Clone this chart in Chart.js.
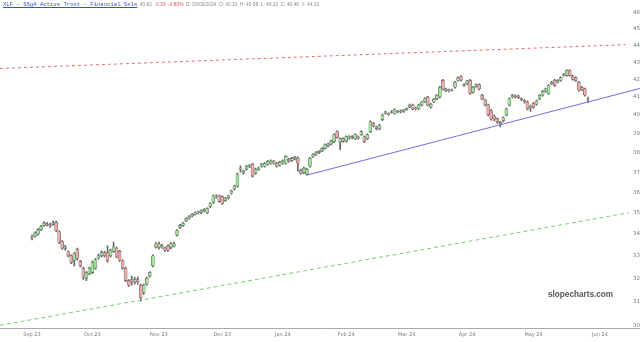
<!DOCTYPE html>
<html>
<head>
<meta charset="utf-8">
<script src="https://cdn.jsdelivr.net/npm/chart.js@4/dist/chart.umd.min.js"></script>
<style>
  html, body { margin: 0; padding: 0; background: #fff; }
  #wrap { position: relative; width: 640px; height: 342px; }
  #head { position: absolute; left: 3px; top: 1px; font: 5.6px "Liberation Mono", monospace; color: #888; white-space: pre; }
  #head .name { color: #3a4fd0; text-decoration: underline; }
  #head .info { font: 4.8px "Liberation Sans", Arial, sans-serif; }
  #head .neg { color: #e05050; }
  #mark { position: absolute; left: 548px; top: 290px; font: bold 8.2px "Liberation Sans", Arial, sans-serif; color: #555; }
</style>
</head>
<body>
<div id="wrap">
  <canvas id="chart"></canvas>
  <div id="head"><span class="name">XLF - SSgA Active Trust - Financial Sele</span><span class="info">  40.82  <span class="neg">-0.33</span>  <span class="neg">-0.80%</span>  D: 03/06/2024  O: 40.31  H: 40.58  L: 40.12  C: 40.46  Y: 44.13</span></div>
  <div id="mark">slopecharts.com</div>
</div>
<script>
// daily candles, Sep 1 2023 .. end of May 2024 (index = trading day)
const opens = [
  33.85,33.90,34.00,34.20,34.40,34.48,34.42,34.45,34.55,34.10,
  33.65,33.33,33.18,33.00,32.80,33.30,32.75,32.45,32.00,32.20,
  32.25,32.45,32.90,33.00,33.15,33.15,33.00,33.20,33.35,33.20,
  32.78,32.45,31.90,31.95,31.85,31.95,31.70,31.40,31.75,32.10,
  32.55,33.40,33.55,33.40,33.35,33.45,33.38,33.45,33.95,34.30,
  34.40,34.62,34.75,34.85,34.92,35.00,35.02,35.10,35.00,35.30,
  35.50,35.78,35.82,35.78,35.60,35.72,35.95,36.16,36.30,37.15,
  36.95,37.15,37.30,37.40,36.95,37.15,37.30,37.30,37.40,37.45,
  37.45,37.45,37.35,37.45,37.45,37.65,37.60,37.70,37.72,37.10,
  36.98,36.90,37.30,37.80,37.90,38.00,38.10,38.22,38.35,38.45,
  38.58,39.10,38.55,38.73,38.60,38.75,38.84,38.73,38.82,38.94,
  38.84,38.73,39.10,39.55,39.35,39.26,39.75,40.10,40.08,40.15,
  40.10,40.22,40.17,40.20,40.30,40.45,40.55,40.33,40.35,40.55,
  40.75,40.99,40.44,40.72,40.90,41.00,41.94,41.45,41.35,41.40,
  41.55,41.94,42.15,41.70,41.75,41.94,41.27,41.60,41.70,41.10,
  40.83,40.55,40.25,39.95,39.79,39.60,39.70,40.00,40.55,41.00,
  41.05,41.05,40.90,40.80,40.72,40.40,40.65,40.60,40.90,41.10,
  41.30,41.20,41.75,41.95,41.85,41.95,42.23,42.23,42.50,42.20,
  42.10,41.83,41.55,41.45,40.85
];
const highs = [
  33.95,34.10,34.25,34.40,34.58,34.55,34.50,34.60,34.60,34.15,
  33.70,33.48,33.22,33.05,33.15,33.35,32.80,32.50,32.30,32.50,
  32.78,32.88,33.08,33.22,33.20,33.45,33.30,33.62,33.40,33.25,
  32.82,32.50,31.95,32.10,32.05,32.05,31.75,31.75,32.05,32.30,
  33.05,33.60,33.62,33.52,33.40,33.50,33.60,33.62,34.20,34.45,
  34.55,34.76,34.86,34.96,35.04,35.08,35.14,35.20,35.24,35.48,
  35.86,35.88,35.86,35.82,35.75,35.86,36.10,36.35,36.95,37.32,
  37.10,37.35,37.40,37.45,37.20,37.26,37.45,37.50,37.60,37.62,
  37.60,37.50,37.55,37.62,37.85,37.70,37.75,37.80,37.78,37.15,
  37.25,37.20,37.75,37.95,38.05,38.10,38.26,38.46,38.50,38.65,
  38.98,39.15,38.78,38.78,38.88,38.90,38.90,38.98,38.88,39.15,
  38.88,38.98,39.68,39.60,39.40,39.50,40.05,40.22,40.12,40.24,
  40.34,40.26,40.28,40.32,40.40,40.60,40.60,40.44,40.60,40.76,
  40.95,41.04,40.65,40.92,41.14,41.60,42.00,41.50,41.45,41.45,
  41.88,42.15,42.22,41.75,41.95,42.00,41.60,41.75,41.75,41.15,
  40.88,40.60,40.30,40.00,39.85,39.66,39.90,40.38,40.95,41.15,
  41.12,41.10,40.95,40.85,40.78,40.55,40.70,40.82,41.14,41.38,
  41.50,41.70,41.88,42.00,41.98,42.15,42.34,42.55,42.55,42.25,
  42.15,41.88,41.60,41.50,41.00
];
const lows = [
  33.72,33.85,33.95,34.15,34.35,34.38,34.30,34.40,34.10,33.55,
  33.30,33.25,32.95,32.65,32.55,32.80,32.50,31.95,31.90,32.15,
  32.20,32.40,32.85,32.95,32.95,32.72,32.95,33.15,32.90,32.75,
  32.40,31.85,31.65,31.70,31.75,31.75,31.02,31.30,31.70,32.05,
  32.50,33.35,33.30,33.35,33.20,33.20,33.32,33.40,33.90,34.25,
  34.35,34.58,34.70,34.80,34.88,34.94,34.96,35.04,34.96,35.25,
  35.45,35.70,35.50,35.40,35.55,35.66,35.90,36.10,36.25,37.00,
  36.90,37.10,37.22,36.75,36.90,37.08,37.25,37.25,37.35,37.40,
  37.40,37.25,37.30,37.40,37.40,37.50,37.55,37.62,37.05,36.90,
  36.92,36.85,37.25,37.75,37.85,37.95,38.05,38.18,38.30,38.40,
  38.52,38.75,38.15,38.55,38.55,38.70,38.72,38.68,38.70,38.90,
  38.52,38.68,39.05,39.35,39.20,39.20,39.70,40.05,39.98,40.10,
  40.05,40.12,40.12,40.15,40.25,40.40,40.28,40.28,40.30,40.50,
  40.70,40.50,40.38,40.68,40.85,40.95,41.40,41.30,41.28,41.32,
  41.50,41.90,41.90,41.60,41.70,41.15,41.22,41.55,41.40,40.85,
  40.50,39.95,39.72,39.70,39.55,39.36,39.62,39.95,40.50,40.95,
  40.95,40.90,40.80,40.66,40.28,40.20,40.38,40.55,40.85,41.05,
  41.25,41.15,41.70,41.60,41.80,41.90,42.18,42.18,42.18,41.95,
  41.88,41.32,41.35,41.05,40.70
];
const closes = [
  33.83,34.05,34.20,34.35,34.50,34.44,34.38,34.52,34.15,33.62,
  33.35,33.40,33.00,32.70,33.10,32.88,32.55,32.05,32.25,32.45,
  32.70,32.82,33.00,33.15,33.00,32.78,33.25,33.40,32.95,32.80,
  32.45,31.90,31.70,31.85,31.95,31.85,31.15,31.70,32.00,32.25,
  33.00,33.55,33.38,33.45,33.25,33.25,33.55,33.55,34.15,34.40,
  34.50,34.72,34.82,34.92,35.00,35.02,35.10,35.15,35.20,35.43,
  35.82,35.80,35.55,35.45,35.70,35.82,36.06,36.30,36.90,37.20,
  37.05,37.30,37.35,36.80,37.15,37.20,37.40,37.45,37.56,37.56,
  37.55,37.30,37.50,37.56,37.80,37.56,37.70,37.75,37.45,36.95,
  37.20,37.15,37.71,37.90,38.00,38.06,38.22,38.42,38.45,38.60,
  38.94,38.80,38.73,38.60,38.84,38.84,38.80,38.94,38.78,39.10,
  38.58,38.94,39.63,39.40,39.26,39.45,40.00,40.17,40.03,40.18,
  40.30,40.17,40.22,40.28,40.35,40.55,40.33,40.38,40.55,40.72,
  40.90,40.55,40.60,40.88,41.10,41.55,41.45,41.35,41.40,41.38,
  41.83,42.10,41.95,41.66,41.90,41.20,41.55,41.70,41.45,40.90,
  40.55,40.01,39.79,39.79,39.63,39.52,39.85,40.33,40.90,41.10,
  41.00,40.95,40.85,40.72,40.33,40.50,40.44,40.78,41.10,41.33,
  41.45,41.66,41.83,41.66,41.94,42.10,42.28,42.50,42.23,42.00,
  41.94,41.38,41.40,41.10,40.83
];

const monthLabels = ['Sep 23','Oct 23','Nov 23','Dec 23','Jan 24','Feb 24','Mar 24','Apr 24','May 24','Jun 24'];
const monthStarts = [0, 20, 42, 63, 83, 104, 124, 144, 166, 188];
const yTicks = [30,31,32,33,34,35,36,37,38,39,40,41,42,43,44,45,46];

// drawn trend lines: [trading day index, price]
const upperLine = [[-10.6, 42.63], [196.5, 44.04]];
const lowerLine = [[-10.6, 30.01], [197.5, 35.0]];
const supportLine = [[91, 36.85], [201.2, 41.48]];

const wicks = lows.map((l, i) => ({ x: i, y: [l, highs[i]] }));
const bodies = opens.map((o, i) => ({ x: i, y: [o, closes[i]] }));
const bodyColors = opens.map((o, i) => closes[i] >= o ? '#9de89a' : '#f2a9a9');
const toPoints = arr => arr.map(p => ({ x: p[0], y: p[1] }));

const ctx = document.getElementById('chart').getContext('2d');
new Chart(ctx, {
    type: 'bar',
    data: {
        datasets: [
            {
                type: 'line',
                data: toPoints(supportLine),
                borderColor: '#6f6fe0',
                borderWidth: 1,
                pointRadius: 0,
                order: 0
            },
            {
                type: 'line',
                data: toPoints(upperLine),
                borderColor: '#e07070',
                borderWidth: 1,
                borderDash: [3, 3],
                pointRadius: 0,
                order: 0
            },
            {
                type: 'line',
                data: toPoints(lowerLine),
                borderColor: '#7cc97c',
                borderWidth: 1,
                borderDash: [4, 3],
                pointRadius: 0,
                order: 0
            },
            {
                data: bodies,
                backgroundColor: bodyColors,
                borderColor: '#666',
                borderWidth: 0.6,
                borderSkipped: false,
                barThickness: 3,
                grouped: false,
                order: 1
            },
            {
                data: wicks,
                backgroundColor: '#666',
                barThickness: 1,
                grouped: false,
                order: 2
            }
        ]
    },
    options: {
        responsive: true,
        maintainAspectRatio: false,
        animation: false,
        layout: { padding: 0 },
        plugins: {
            legend: { display: false },
            tooltip: { enabled: false }
        },
        scales: {
            x: {
                type: 'linear',
                min: -10.59,
                max: 201.24,
                bounds: 'data',
                offset: false,
                grid: { display: false, drawTicks: false, offset: false },
                border: { display: true, color: '#aaa', width: 1 },
                afterBuildTicks: axis => {
                    axis.ticks = monthStarts.map(v => ({ value: v }));
                },
                ticks: {
                    autoSkip: false,
                    maxRotation: 0,
                    padding: 4,
                    color: '#777',
                    font: { size: 5, family: 'DejaVu Sans' },
                    callback: v => monthLabels[monthStarts.indexOf(v)]
                }
            },
            y: {
                type: 'logarithmic',
                position: 'right',
                min: 29.9,
                max: 46.6,
                bounds: 'data',
                grid: { display: false, drawTicks: false },
                border: { display: false },
                afterBuildTicks: axis => {
                    axis.ticks = yTicks.map(v => ({ value: v }));
                },
                ticks: {
                    mirror: true,
                    autoSkip: false,
                    padding: 0,
                    color: '#777',
                    font: { size: 5.5, family: 'DejaVu Sans' },
                    callback: v => String(v)
                }
            }
        }
    }
});
</script>
</body>
</html>
